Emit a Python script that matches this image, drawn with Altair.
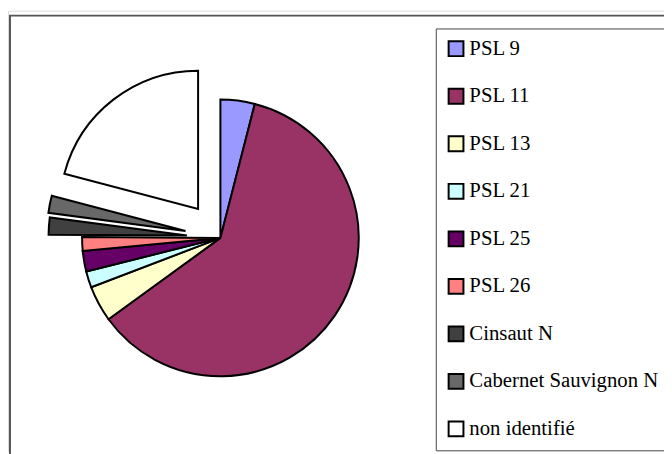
import altair as alt
import pandas as pd

categories = ["PSL 9", "PSL 11", "PSL 13", "PSL 21", "PSL 25", "PSL 26",
              "Cinsaut N", "Cabernet Sauvignon N", "non identifié"]
values = [4.0, 61.0, 4.2, 1.9, 2.4, 1.6, 2.0, 2.0, 20.9]

# styles
colors = ["#9999FF", "#993366", "#FFFFCC", "#CCFFFF", "#660066", "#FF8080",
          "#404040", "#686868", "#FFFFFF"]
explode = {"Cinsaut N": 34, "Cabernet Sauvignon N": 36, "non identifié": 37}
CX, CY, R = 215, 230, 140
FONT = "Liberation Serif"

df = pd.DataFrame({
    "cat": categories,
    "value": values,
    "order": list(range(len(categories))),
    "explode": [explode.get(c, 0) for c in categories],
})

pie = alt.Chart(df).transform_joinaggregate(
    total="sum(value)"
).transform_window(
    cum="sum(value)", sort=[alt.SortField("order")], frame=[None, 0]
).transform_calculate(
    t1="2*PI*datum.cum/datum.total",
    t0="2*PI*(datum.cum-datum.value)/datum.total",
).transform_calculate(
    mid="(datum.t0+datum.t1)/2"
).transform_calculate(
    px=f"{CX} + datum.explode*sin(datum.mid)",
    py=f"{CY} - datum.explode*cos(datum.mid)",
).mark_arc(radius=R, stroke="black", strokeWidth=2, strokeJoin="miter").encode(
    theta=alt.Theta("t0:Q", scale=None),
    theta2="t1:Q",
    x=alt.X("px:Q", scale=None),
    y=alt.Y("py:Q", scale=None),
    color=alt.Color(
        "cat:N",
        sort=categories,
        scale=alt.Scale(domain=categories, range=colors),
        legend=alt.Legend(
            title=None,
            orient="none",
            legendX=433,
            legendY=18,
            direction="vertical",
            symbolType="square",
            symbolSize=225,
            symbolStrokeColor="black",
            symbolStrokeWidth=2,
            symbolOpacity=1,
            labelFont=FONT,
            labelFontSize=21,
            labelColor="black",
            labelOffset=3,
            labelLimit=400,
            rowPadding=25.1,
            padding=10,
            strokeColor="#444444",
            fillColor="white",
        ),
    ),
    order=alt.Order("order:Q"),
)

frame = alt.Chart(pd.DataFrame({"a": [0]})).mark_rect(
    fill="white", stroke="#555555", strokeWidth=2
).encode(
    x=alt.value(2), y=alt.value(5), x2=alt.value(720), y2=alt.value(720)
)

chart = alt.layer(frame, pie).properties(
    width=664, height=446, padding=0, autosize="none"
).configure_view(stroke=None).configure(font=FONT)

chart.save("out.html", embed_options={"renderer": "svg", "actions": False})
